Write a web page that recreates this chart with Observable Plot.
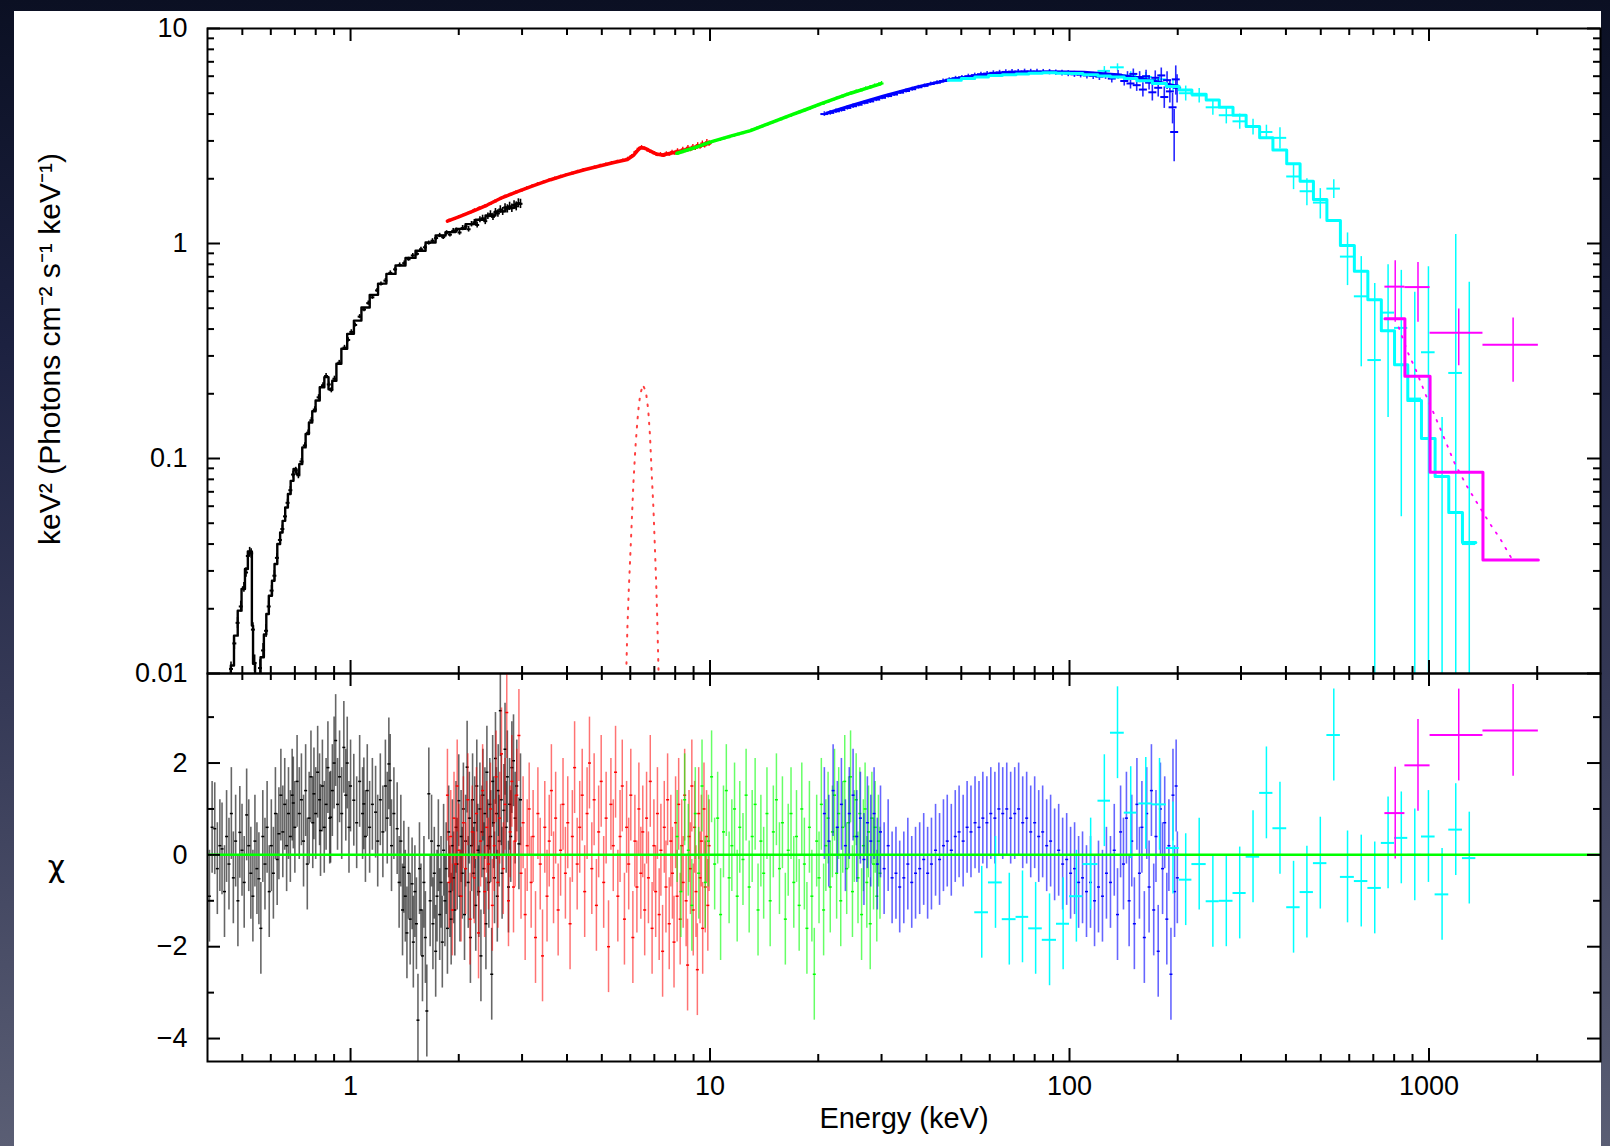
<!DOCTYPE html>
<html>
<head>
<meta charset="utf-8">
<script src="https://cdn.jsdelivr.net/npm/d3@7"></script>
<script src="https://cdn.jsdelivr.net/npm/@observablehq/plot@0.6"></script>
<style>
  html, body { margin: 0; padding: 0; overflow: hidden; background: #0c1124; }
  #slide { position: relative; width: 1610px; height: 1146px; overflow: hidden;
    background: linear-gradient(to bottom, #0b1023 0%, #1c2140 30%, #363a57 62%, #5a5e74 100%); }
  #sheet { position: absolute; left: 14px; top: 11px; width: 1587px; height: 1135px; background: #fff; }
  #spectrum, #residuals { position: absolute; left: 0; }
  #spectrum { top: 0; }
  #residuals { top: 653px; }
</style>
</head>
<body>
<div id="slide">
  <div id="sheet"></div>
  <div id="spectrum"></div>
  <div id="residuals"></div>
</div>
<script>
// ---------- axis ticks ----------
const energyMajor = [1, 10, 100, 1000];
const energyMinor = [0.5, 0.6, 0.7, 0.8, 0.9, 2, 3, 4, 5, 6, 7, 8, 9,
  20, 30, 40, 50, 60, 70, 80, 90, 200, 300, 400, 500, 600, 700, 800, 900, 2000];
const fluxMajor = [0.01, 0.1, 1, 10];
const fluxMinor = [0.02, 0.03, 0.04, 0.05, 0.06, 0.07, 0.08, 0.09,
  0.2, 0.3, 0.4, 0.5, 0.6, 0.7, 0.8, 0.9, 2, 3, 4, 5, 6, 7, 8, 9];
const chiMajor = [-4, -2, 0, 2];
const chiMinor = [-3, -1, 1, 3];

// ---------- unfolded spectrum: [energy keV, keV^2 flux, error] ----------
const blackData = [
  [0.465,0.0105,0.0008],[0.475,0.0138,0.0009],[0.485,0.0172,0.001],[0.495,0.0205,0.0012],
  [0.505,0.0252,0.0013],[0.512,0.0295,0.0015],[0.518,0.0352,0.0017],[0.524,0.0368,0.0018],
  [0.529,0.0362,0.0018],[0.535,0.0160,0.0012],[0.541,0.0112,0.001],[0.560,0.0106,0.001],
  [0.571,0.0128,0.001],[0.582,0.0158,0.0011],[0.592,0.0205,0.0012],[0.603,0.0243,0.0014],
  [0.614,0.0285,0.0016],[0.624,0.0345,0.0017],[0.636,0.0418,0.0019],[0.646,0.0470,0.002],
  [0.657,0.0538,0.0022],[0.668,0.0622,0.0025],[0.680,0.0712,0.0028],[0.692,0.0842,0.003],
  [0.704,0.0880,0.003],[0.716,0.0835,0.003],[0.730,0.0968,0.0032],[0.746,0.1150,0.0035],
  [0.762,0.1318,0.004],[0.778,0.1505,0.0045],[0.795,0.1690,0.005],[0.815,0.1925,0.0055],
  [0.838,0.2190,0.006],[0.855,0.2420,0.0065],[0.870,0.2210,0.006],[0.884,0.2080,0.006],
  [0.902,0.2350,0.0065],[0.930,0.2790,0.007],[0.962,0.3280,0.008],[0.985,0.3560,0.008],
  [1.005,0.3880,0.009],[1.030,0.4180,0.009],[1.060,0.4570,0.010],[1.090,0.4930,0.011],
  [1.120,0.5280,0.012],[1.150,0.5620,0.012],[1.185,0.6050,0.013],[1.215,0.6480,0.014],
  [1.250,0.6720,0.015],[1.290,0.7300,0.016],[1.330,0.7580,0.016],[1.370,0.7950,0.017],
  [1.410,0.8100,0.018],[1.450,0.8450,0.018],[1.490,0.8800,0.019],[1.530,0.8950,0.02],
  [1.570,0.9400,0.02],[1.610,0.9600,0.021],[1.650,1.0050,0.022],[1.690,1.0300,0.023],
  [1.730,1.0600,0.024],[1.770,1.0900,0.025],[1.810,1.0700,0.026],[1.850,1.1200,0.027],
  [1.890,1.1000,0.028],[1.930,1.1450,0.03],[1.970,1.1500,0.03],[2.010,1.1250,0.032],
  [2.050,1.1800,0.033],[2.090,1.2000,0.034],[2.130,1.1650,0.035],[2.170,1.2300,0.036],
  [2.210,1.2550,0.038],[2.250,1.2200,0.04],[2.290,1.2900,0.042],[2.330,1.3100,0.044],
  [2.370,1.2700,0.046],[2.410,1.3400,0.048],[2.450,1.3700,0.05],[2.490,1.3300,0.052],
  [2.530,1.4000,0.054],[2.570,1.3800,0.056],[2.610,1.4400,0.058],[2.650,1.4100,0.06],
  [2.690,1.4700,0.062],[2.730,1.4500,0.064],[2.770,1.4900,0.066],[2.810,1.4600,0.068],
  [2.850,1.5100,0.07],[2.890,1.4900,0.072],[2.930,1.5400,0.074],[2.970,1.5300,0.076]
];
const blackModel = [
  [0.46,0.0095],[0.469,0.0109],[0.479,0.015],[0.492,0.0196],[0.503,0.0247],[0.514,0.0306],
  [0.522,0.037],[0.530,0.037],[0.533,0.0167],[0.538,0.0111],[0.547,0.0099],[0.556,0.0098],
  [0.568,0.0119],[0.580,0.0152],[0.586,0.0189],[0.599,0.023],[0.610,0.027],[0.619,0.0323],
  [0.632,0.040],[0.642,0.0453],[0.652,0.0513],[0.664,0.0592],[0.675,0.0684],[0.688,0.0787],
  [0.700,0.0894],[0.714,0.0847],[0.726,0.0942],[0.742,0.1126],[0.758,0.130],[0.774,0.147],
  [0.791,0.166],[0.808,0.186],[0.834,0.2145],[0.857,0.239],[0.880,0.210],[0.899,0.230],
  [0.928,0.276],[0.958,0.324],[1.0,0.380],[1.044,0.438],[1.101,0.504],[1.161,0.577],
  [1.225,0.651],[1.292,0.722],[1.377,0.79],[1.468,0.857],[1.566,0.926],[1.670,1.01],
  [1.780,1.09],[1.898,1.13],[2.024,1.17],[2.158,1.23],[2.30,1.29],[2.45,1.35],
  [2.61,1.41],[2.79,1.47],[2.97,1.53]
];

const redData = [
  [1.88,1.28,0.02],[1.94,1.30,0.02],[2.00,1.33,0.02],[2.07,1.36,0.02],[2.14,1.39,0.02],
  [2.21,1.43,0.021],[2.28,1.46,0.021],[2.36,1.49,0.022],[2.44,1.53,0.022],[2.52,1.57,0.023],
  [2.60,1.61,0.023],[2.69,1.655,0.024],[2.78,1.69,0.024],[2.88,1.73,0.025],[2.98,1.765,0.025],
  [3.09,1.81,0.026],[3.20,1.85,0.026],[3.32,1.895,0.027],[3.44,1.93,0.027],[3.57,1.975,0.028],
  [3.70,2.01,0.028],[3.84,2.05,0.029],[3.98,2.085,0.03],[4.13,2.12,0.03],[4.28,2.16,0.031],
  [4.44,2.20,0.032],[4.60,2.22,0.033],[4.77,2.26,0.034],[4.95,2.30,0.035],[5.13,2.33,0.036],
  [5.32,2.37,0.037],[5.52,2.40,0.038],[5.72,2.43,0.039],[5.90,2.48,0.04],[6.05,2.55,0.04],
  [6.20,2.66,0.042],[6.33,2.76,0.043],[6.45,2.81,0.044],[6.58,2.77,0.044],[6.72,2.71,0.045],
  [6.86,2.67,0.045],[7.00,2.63,0.046],[7.14,2.58,0.046],[7.28,2.60,0.047],[7.42,2.56,0.048],
  [7.56,2.62,0.05],[7.70,2.60,0.052],[7.84,2.66,0.054],[7.98,2.63,0.056],[8.12,2.70,0.058],
  [8.26,2.66,0.06],[8.40,2.74,0.062],[8.54,2.71,0.064],[8.68,2.79,0.066],[8.82,2.74,0.068],
  [8.96,2.82,0.07],[9.10,2.78,0.072],[9.24,2.87,0.074],[9.38,2.82,0.076],[9.52,2.92,0.078],
  [9.66,2.86,0.08],[9.80,2.96,0.082],[9.94,2.92,0.084]
];
const redModel = [
  [1.86,1.27],[2.0,1.33],[2.2,1.42],[2.4,1.51],[2.61,1.62],[2.9,1.74],[3.2,1.85],[3.6,1.98],
  [4.0,2.09],[4.5,2.21],[4.96,2.30],[5.4,2.38],[5.89,2.46],[6.14,2.58],[6.3,2.72],[6.41,2.79],
  [6.55,2.78],[6.7,2.74],[6.85,2.68],[6.98,2.64],[7.15,2.6],[7.36,2.58],[7.6,2.61],[7.93,2.65],
  [8.4,2.70],[8.83,2.76],[9.3,2.83],[9.82,2.91],[10.0,2.94]
];
// Fe K line component alone
const redLine = [
  [5.855,0.0111],[5.89,0.0163],[5.94,0.0240],[6.00,0.0353],[6.06,0.0519],[6.12,0.0763],
  [6.20,0.1123],[6.28,0.150],[6.35,0.1824],[6.41,0.201],[6.50,0.2203],[6.63,0.205],
  [6.73,0.169],[6.81,0.1267],[6.88,0.0859],[6.96,0.0584],[7.02,0.0397],[7.08,0.0269],
  [7.13,0.0183],[7.17,0.0124],[7.19,0.0102]
];

const greenData = [
  [8.10,2.62,0.03],[8.35,2.66,0.03],[8.60,2.71,0.03],[8.86,2.75,0.03],[9.13,2.80,0.032],
  [9.41,2.85,0.032],[9.70,2.90,0.033],[10.0,2.95,0.034],[10.3,3.00,0.035],[10.6,3.03,0.035],
  [10.9,3.08,0.036],[11.25,3.12,0.037],[11.6,3.17,0.038],[11.95,3.22,0.039],[12.3,3.26,0.04],
  [12.7,3.31,0.04],[13.1,3.38,0.041],[13.5,3.44,0.042],[13.9,3.50,0.043],[14.35,3.57,0.044],
  [14.8,3.64,0.045],[15.25,3.71,0.046],[15.7,3.78,0.047],[16.2,3.86,0.048],[16.7,3.93,0.05],
  [17.2,4.01,0.052],[17.7,4.08,0.054],[18.25,4.16,0.056],[18.8,4.23,0.058],[19.4,4.32,0.06],
  [20.0,4.40,0.062],[20.6,4.47,0.064],[21.2,4.56,0.066],[21.9,4.65,0.068],[22.6,4.76,0.07],
  [23.3,4.83,0.072],[24.0,4.93,0.075],[24.7,5.01,0.078],[25.5,5.09,0.08],[26.3,5.16,0.085],
  [27.1,5.26,0.09],[27.9,5.33,0.095],[28.7,5.42,0.1],[29.5,5.49,0.11],[30.0,5.55,0.12]
];
const greenModel = [
  [8.1,2.63],[9.0,2.78],[10.0,2.96],[11.4,3.16],[12.96,3.35],[14.8,3.65],[16.7,3.94],
  [18.5,4.2],[20.3,4.46],[22.4,4.73],[24.6,5.0],[27.2,5.27],[29.8,5.53]
];

const blueData = [
  [20.8,4.00,0.10],[21.6,4.05,0.10],[22.4,4.12,0.10],[23.2,4.18,0.10],[24.1,4.27,0.10],
  [25.0,4.35,0.10],[25.9,4.42,0.10],[26.9,4.51,0.10],[27.9,4.58,0.10],[29.0,4.67,0.10],
  [30.1,4.76,0.10],[31.3,4.85,0.10],[32.5,4.93,0.10],[33.8,5.03,0.10],[35.1,5.12,0.11],
  [36.5,5.22,0.11],[38.0,5.33,0.11],[39.5,5.41,0.11],[41.1,5.52,0.11],[42.8,5.60,0.12],
  [44.5,5.70,0.12],[46.3,5.78,0.12],[48.2,5.87,0.12],[50.2,5.93,0.12],[52.3,6.00,0.13],
  [54.5,6.07,0.13],[56.7,6.13,0.13],[59.0,6.17,0.14],[61.4,6.22,0.14],[63.9,6.25,0.14],
  [66.5,6.28,0.15],[69.2,6.30,0.15],[72.0,6.30,0.15],[75.0,6.31,0.16],[78.0,6.30,0.16],
  [81.2,6.29,0.17],[84.5,6.28,0.17],[88.0,6.27,0.18],[91.6,6.24,0.18],[95.3,6.21,0.19],
  [99.2,6.17,0.2],[103.2,6.12,0.2],[107.4,6.10,0.21],[111.8,6.05,0.22],[116.4,6.02,0.23],
  [121.1,5.97,0.24],[126.0,6.05,0.25],[131.1,5.85,0.27],[136.5,6.10,0.28],[142.0,5.70,0.3],
  [145.0,6.0,0.3],[147.8,5.55,0.32],[150.5,6.15,0.33],[153.8,5.45,0.35],[156.7,5.95,0.35],
  [160.0,5.2,0.4],[163.3,6.0,0.4],[166.5,5.6,0.42],[170.0,5.05,0.45],[173.2,5.9,0.45],
  [176.5,5.3,0.5],[180.0,6.05,0.5],[183.5,4.8,0.55],[186.8,5.75,0.55],[190.2,5.1,0.6],
  [193.5,4.3,0.7],[195.5,3.3,0.9],[197.5,5.8,0.9],[199.2,5.3,0.8]
];
const blueModel = [
  [21.1,4.04],[24.6,4.38],[30.4,4.85],[37.7,5.35],[46.7,5.8],[57.8,6.09],[71.5,6.26],
  [88.6,6.3],[109.7,6.26],[135.8,6.1],[168,5.75],[197,5.4],[200,5.38]
];

// binned spectra: [E low, E high, value, lower end of bar, upper end of bar]
const cyanData = [
  [120,130,6.35,6.05,6.65],[130,142,6.6,6.35,6.85],[142,154,6.05,5.8,6.3],[156,170,5.95,5.65,6.25],
  [170,186,5.8,5.5,6.1],[186,202,5.45,5.1,5.8],[202,219,5.0,4.6,5.4],[219,240,4.88,4.5,5.26],
  [240,261,4.3,3.95,4.65],[261,285,3.95,3.6,4.3],[285,310,3.7,3.4,4.0],[310,338,3.49,3.2,3.78],
  [338,368,3.3,3.05,3.55],[368,402,3.1,2.75,3.45],[402,438,2.05,1.78,2.32],[438,477,1.75,1.5,2.0],
  [477,520,1.55,1.3,1.8],[520,567,1.8,1.62,1.98],[567,620,0.869,0.637,1.12],[620,676,0.568,0.267,0.869],
  [676,737,0.287,0.001,0.651],[737,802,0.477,0.155,0.797],[802,873,0.405,0.0536,0.75],
  [873,953,0.19,0.001,0.593],[953,1040,0.312,0.001,0.78],[1040,1135,0.005,0.001,0.155],
  [1135,1239,0.25,0.001,1.1],[1239,1350,0.04,0.001,0.66]
];
// model histogram: [E low, E high, value]
const cyanModel = [
  [46,50,5.75],[50,54.5,5.85],[54.5,59.5,5.95],[59.5,65,6.05],[65,71,6.1],[71,77,6.15],
  [77,84,6.2],[84,92,6.22],[92,100,6.2],[100,109,6.17],[109,120,6.1],[120,130,6.02],
  [130,142,5.95],[142,154,5.85],[154,170,5.72],[170,186,5.55],[186,202,5.38],[202,219,5.18],
  [219,240,4.95],[240,261,4.65],[261,285,4.3],[285,310,3.95],[310,338,3.5],[338,368,3.1],
  [368,402,2.72],[402,438,2.35],[438,477,1.95],[477,520,1.6],[520,567,1.28],[567,620,0.98],
  [620,676,0.742],[676,737,0.547],[737,802,0.393],[802,873,0.273],[873,953,0.186],
  [953,1040,0.124],[1040,1135,0.0825],[1135,1239,0.0561],[1239,1350,0.0407]
];

const magentaData = [
  [754,857,0.630,0.430,0.832],[857,1007,0.627,0.430,0.815],
  [1007,1413,0.385,0.270,0.496],[1413,2015,0.3385,0.226,0.4506]
];
const magentaModel = [[754,857,0.447],[857,1007,0.241],[1007,1413,0.0862],[1413,2015,0.0337]];
const magentaCurve = [
  [824,0.407],[873,0.312],[917,0.261],[979,0.198],[1025,0.166],[1095,0.128],[1172,0.097],
  [1268,0.0755],[1349,0.0636],[1476,0.0499],[1573,0.0427],[1711,0.0335]
];

// ---------- residuals in sigma: [energy keV, chi] ----------
const blackChi = [
  [0.405,-0.9],[0.412,0.6],[0.419,0.57],[0.426,-0.3],[0.433,0.2],[0.439,0.13],[0.446,-0.8],
  [0.452,0.4],[0.459,-0.2],[0.466,0.9],[0.472,-0.5],[0.479,0.3],[0.486,-1.0],[0.492,0.49],
  [0.499,0.1],[0.506,-0.6],[0.514,0.87],[0.521,0.2],[0.528,-0.4],[0.535,-0.9],[0.542,0.3],
  [0.549,-0.3],[0.556,-0.52],[0.563,-1.6],[0.570,0.4],[0.578,-0.2],[0.586,0.6],[0.594,-0.8],
  [0.602,0.2],[0.610,-0.4],[0.618,0.9],[0.625,-0.1],[0.632,0.46],[0.640,1.3],[0.648,0.5],
  [0.656,1.1],[0.664,0.2],[0.672,0.9],[0.680,0.4],[0.688,1.3],[0.693,1.13],[0.700,0.6],
  [0.710,1.6],[0.720,0.9],[0.730,1.2],[0.740,0.3],[0.750,1.4],[0.758,-0.2],[0.767,0.8],
  [0.776,1.7],[0.785,0.7],[0.791,1.33],[0.800,0.9],[0.810,1.8],[0.820,1.2],[0.825,0.53],
  [0.835,1.5],[0.845,0.6],[0.855,1.1],[0.865,1.9],[0.875,0.8],[0.880,0.82],[0.890,1.4],
  [0.900,2.0],[0.909,2.49],[0.920,1.1],[0.932,1.7],[0.945,0.9],[0.958,2.34],[0.970,1.3],
  [0.979,2.0],[0.990,0.6],[1.000,1.5],[1.021,1.19],[1.040,0.7],[1.060,1.6],[1.080,0.9],
  [1.089,1.11],[1.100,0.4],[1.113,1.4],[1.130,0.6],[1.150,1.1],[1.174,0.93],[1.190,0.3],
  [1.210,1.2],[1.230,0.5],[1.250,1.5],[1.265,0.8],[1.278,1.98],[1.289,1.62],[1.300,0.2],
  [1.320,0.9],[1.348,0.57],[1.365,-0.6],[1.380,0.3],[1.395,-1.2],[1.407,-0.27],[1.420,-0.9],
  [1.435,-1.7],[1.450,-0.4],[1.465,-1.4],[1.483,-0.63],[1.495,-1.9],[1.510,-0.8],[1.525,-1.5],
  [1.540,-3.6],[1.555,-0.3],[1.570,-1.2],[1.585,-2.2],[1.600,-0.6],[1.615,-1.8],[1.630,-3.4],
  [1.651,1.33],[1.665,-1.0],[1.680,0.3],[1.695,-1.5],[1.710,-0.4],[1.725,-2.1],[1.740,-0.9],
  [1.755,0.2],[1.770,-1.3],[1.785,-0.6],[1.800,-1.9],[1.815,0.1],[1.830,-1.0],[1.845,-0.3],
  [1.860,-1.6],[1.875,0.5],[1.890,-0.8],[1.905,-1.4],[1.920,0.2],[1.935,-0.5],[1.950,-1.2],
  [1.965,0.6],[1.980,-0.2],[2.000,1.18],[2.015,-0.9],[2.030,0.4],[2.045,-0.4],[2.060,1.0],
  [2.075,-1.3],[2.090,0.3],[2.110,1.91],[2.125,-0.6],[2.140,0.8],[2.155,-1.8],[2.170,0.2],
  [2.185,1.2],[2.200,-0.4],[2.215,0.7],[2.230,-1.1],[2.245,1.5],[2.260,0.1],[2.275,-0.8],
  [2.290,1.0],[2.305,-2.2],[2.320,0.5],[2.335,1.3],[2.350,-0.3],[2.365,0.9],[2.380,-1.5],
  [2.395,1.8],[2.410,0.2],[2.425,-0.6],[2.440,1.1],[2.455,0.4],[2.470,-2.6],[2.485,1.6],
  [2.500,0.7],[2.515,-0.5],[2.530,2.1],[2.545,0.9],[2.560,-0.9],[2.575,1.4],[2.590,0.3],
  [2.610,3.14],[2.625,1.2],[2.640,-0.4],[2.670,0.97],[2.690,2.3],[2.710,0.6],[2.730,1.7],
  [2.750,-0.7],[2.770,1.1],[2.790,0.4],[2.810,1.9],[2.840,2.05],[2.870,0.8],[2.900,1.5],
  [2.940,0.24],[2.970,1.2]
];
const redChi = [
  [1.86,1.3],[1.88,-0.6],[1.90,0.4],[1.92,-1.2],[1.94,0.8],[1.96,-0.2],[1.98,1.5],[2.00,0.1],
  [2.03,-0.9],[2.06,0.7],[2.09,-0.3],[2.12,1.2],[2.15,-1.4],[2.18,0.5],[2.21,-0.5],[2.24,0.9],
  [2.27,-1.7],[2.30,0.3],[2.33,1.4],[2.36,-0.8],[2.39,0.6],[2.42,-0.2],[2.45,1.0],[2.48,-1.1],
  [2.51,0.2],[2.54,1.7],[2.57,-0.6],[2.60,0.8],[2.63,2.2],[2.66,-0.3],[2.69,1.1],[2.72,3.1],
  [2.75,-1.0],[2.78,0.5],[2.81,1.6],[2.84,-0.7],[2.87,0.3],[2.90,1.3],[2.94,2.6],[2.98,-0.4],
  [3.02,0.7],[3.06,-1.3],[3.10,0.2],[3.14,1.0],[3.18,-0.6],[3.22,0.4],[3.27,-1.8],[3.32,0.9],
  [3.37,-0.2],[3.42,-2.2],[3.47,0.6],[3.52,-0.9],[3.57,0.3],[3.62,1.4],[3.67,-0.5],[3.72,0.8],
  [3.78,-1.2],[3.84,0.1],[3.90,1.1],[3.96,-0.4],[4.02,0.7],[4.08,-1.5],[4.14,0.4],[4.20,1.9],
  [4.27,-0.2],[4.34,0.6],[4.41,1.3],[4.48,-0.8],[4.55,0.9],[4.62,2.0],[4.69,-0.3],[4.76,1.2],
  [4.83,-1.1],[4.90,0.5],[4.98,1.6],[5.06,-0.6],[5.14,0.8],[5.22,-2.0],[5.30,1.1],[5.38,0.2],
  [5.46,1.8],[5.54,-0.9],[5.62,0.4],[5.70,1.5],[5.78,-1.4],[5.86,0.6],[5.94,-0.2],[6.02,1.3],
  [6.10,-1.8],[6.18,0.3],[6.26,-0.7],[6.34,1.0],[6.42,-0.4],[6.50,0.5],[6.58,-1.2],[6.66,0.8],
  [6.74,-0.5],[6.82,1.6],[6.90,-1.6],[6.98,0.2],[7.06,-0.8],[7.14,0.9],[7.22,-1.3],[7.30,0.1],
  [7.38,-2.1],[7.46,0.6],[7.54,-0.7],[7.62,1.2],[7.70,-1.5],[7.78,0.3],[7.86,-0.4],[7.94,-1.9],
  [8.02,0.7],[8.10,-0.9],[8.18,1.1],[8.26,-1.4],[8.34,0.2],[8.42,-0.6],[8.50,1.3],[8.58,-1.0],
  [8.66,-2.4],[8.74,0.4],[8.82,-0.3],[8.90,1.5],[8.98,-1.2],[9.06,0.6],[9.14,-0.8],[9.22,-2.5],
  [9.30,0.9],[9.38,-0.5],[9.46,0.3],[9.54,-1.6],[9.62,1.0],[9.70,-0.7],[9.78,0.4],[9.86,-1.1],
  [9.94,0.2]
];
const greenChi = [
  [8.1,0.4],[8.3,-0.8],[8.5,1.2],[8.7,0.1],[8.9,-1.1],[9.1,0.9],[9.3,-0.4],[9.5,1.5],[9.7,-0.6],
  [9.9,0.3],[10.1,1.7],[10.3,-0.2],[10.5,0.8],[10.7,-1.3],[10.9,0.5],[11.1,1.4],[11.3,-0.5],
  [11.5,0.2],[11.7,1.0],[11.9,-0.9],[12.1,0.6],[12.35,-0.1],[12.6,1.3],[12.85,-0.7],[13.1,0.4],
  [13.35,1.1],[13.6,-1.2],[13.85,0.3],[14.1,-0.4],[14.4,0.9],[14.7,-1.0],[15.0,0.5],[15.3,1.2],
  [15.6,-0.3],[15.9,0.7],[16.2,-1.4],[16.5,0.1],[16.8,0.9],[17.1,-0.6],[17.4,0.4],[17.7,-1.1],
  [18.0,1.0],[18.3,-0.2],[18.6,-1.6],[18.9,0.6],[19.2,-0.9],[19.5,-2.6],[19.8,0.3],[20.1,-0.5],
  [20.4,1.1],[20.7,-1.2],[21.0,0.2],[21.3,0.8],[21.6,-0.7],[21.9,0.5],[22.2,1.3],[22.5,-0.4],
  [22.8,0.9],[23.1,-1.0],[23.4,0.6],[23.7,1.6],[24.0,-0.3],[24.3,0.7],[24.6,1.7],[24.9,-0.8],
  [25.2,0.4],[25.5,1.2],[25.8,-0.5],[26.1,0.9],[26.4,-1.3],[26.7,0.2],[27.0,1.0],[27.3,-0.6],
  [27.6,0.5],[27.9,-1.5],[28.2,0.8],[28.5,-0.2],[28.8,0.6],[29.1,-0.9],[29.4,0.3],[29.7,-0.4]
];
const blueChi = [
  [20.8,0.9],[21.4,0.3],[22.0,1.4],[22.6,0.6],[23.2,1.1],[23.8,0.2],[24.4,0.9],[25.0,1.3],
  [25.6,0.4],[26.2,0.8],[26.8,-0.1],[27.4,0.7],[28.0,0.3],[28.6,0.9],[29.2,-0.2],[29.8,0.5],
  [30.5,-0.3],[31.3,0.2],[32.1,-0.5],[32.9,-0.4],[33.7,-0.7],[34.6,-0.5],[35.5,-0.2],[36.4,-0.6],
  [37.3,-0.4],[38.3,-0.3],[39.3,-0.1],[40.3,-0.4],[41.3,-0.2],[42.4,0.1],[43.5,-0.1],[44.6,0.2],
  [45.7,0.3],[46.9,0.1],[48.1,0.4],[49.3,0.5],[50.6,0.3],[51.9,0.6],[53.2,0.5],[54.6,0.7],
  [56.0,0.6],[57.4,0.8],[58.9,0.7],[60.4,0.9],[62.0,0.8],[63.6,1.0],[65.2,0.9],[66.9,1.0],
  [68.6,0.8],[70.4,0.9],[72.2,1.0],[74.1,0.7],[76.0,0.8],[78.0,0.5],[80.0,0.7],[82.1,0.4],
  [84.2,0.5],[86.4,0.2],[88.6,0.3],[90.9,0.0],[93.3,0.1],[95.7,-0.2],[98.2,-0.1],[100.7,-0.4],
  [103.3,-0.3],[106.0,-0.6],[108.7,-0.5],[111.5,-0.8],[114.4,-0.6],[117.4,-1.0],[120.4,-0.7],
  [123.5,-0.9],[126.7,-0.4],[130.0,-0.6],[133.2,0.1],[136.0,-1.3],[138.7,0.5],[141.3,-0.2],
  [144.0,0.8],[146.5,-1.0],[149.0,0.3],[151.5,-1.5],[154.0,1.1],[156.5,-0.4],[159.0,0.6],
  [161.5,-1.8],[164.0,0.9],[166.5,-0.7],[169.0,1.4],[171.5,-1.2],[174.0,0.4],[176.5,-2.1],
  [179.0,1.0],[181.5,-0.3],[184.0,0.7],[186.5,-1.4],[189.0,0.2],[191.5,-2.6],[194.0,1.3],
  [196.0,-0.8],[198.0,1.5],[199.5,-0.5]
];
// binned residuals: [E low, E high, chi]
const cyanChi = [
  [54.5,59.5,-1.25],[59.5,65,-0.6],[65,71,-1.4],[71,77,-1.35],[77,84,-1.6],[84,92,-1.85],
  [92,100,-1.5],[100,109,-0.9],[109,120,-0.2],[120,130,1.18],[130,142,2.66],[142,154,0.92],
  [156,170,1.12],[170,186,1.10],[186,202,0.15],[202,219,-0.54],[219,240,-0.2],[240,261,-1.01],
  [261,285,-1.0],[285,310,-0.83],[310,338,-0.04],[338,368,1.35],[368,402,0.58],[402,438,-1.14],
  [438,477,-0.81],[477,520,-0.18],[520,567,2.61],[567,620,-0.48],[620,676,-0.57],[676,737,-0.72],
  [737,802,0.26],[802,873,0.37],[873,953,0.0],[953,1040,0.40],[1040,1135,-0.86],
  [1135,1239,0.55],[1239,1350,-0.07]
];
const magentaChi = [[754,857,0.91],[857,1007,1.95],[1007,1413,2.61],[1413,2015,2.71]];

// ---------- drawing helpers ----------
const FONT = "'Liberation Sans', Arial, Helvetica, sans-serif";
const C = {black: "#000000", red: "#ff0000", green: "#00ff00", blue: "#0000ff", cyan: "#00ffff", magenta: "#ff00ff"};
const W = 1610, ML = 207, MR = 10;
const FRAME_W = W - ML - MR;

// short horizontal stroke used as the bin marker of dense data
const dash = {draw(ctx, size) { const r = Math.sqrt(size / Math.PI); ctx.moveTo(-r, 0); ctx.lineTo(r, 0); }};

function xTicks(values, len, frameH) {
  const s = {stroke: "#000", strokeWidth: 2};
  return [
    Plot.tickX(values, {x: d => d, insetBottom: frameH - len, ...s}),
    Plot.tickX(values, {x: d => d, insetTop: frameH - len, ...s})
  ];
}
function yTicks(values, len) {
  const s = {stroke: "#000", strokeWidth: 2};
  return [
    Plot.tickY(values, {y: d => d, insetRight: FRAME_W - len, ...s}),
    Plot.tickY(values, {y: d => d, insetLeft: FRAME_W - len, ...s})
  ];
}
// points with symmetric error bars
function points(rows, color, {r = 1.5, bar = 1, opacity = 1, mark = 1.5, err = d => d[2]} = {}) {
  return [
    Plot.ruleX(rows, {x: d => d[0], y1: d => d[1] - err(d), y2: d => d[1] + err(d),
      stroke: color, strokeWidth: bar, strokeOpacity: opacity, clip: true}),
    Plot.dot(rows, {x: d => d[0], y: d => d[1], symbol: dash, r, stroke: color,
      strokeWidth: mark, fill: "none", clip: true})
  ];
}
// binned crosses: horizontal bar spans the bin, vertical bar the error
function binned(rows, color, {v = d => d[2], lo = d => d[3], hi = d => d[4], width = 1.5} = {}) {
  return [
    Plot.ruleX(rows, {x: d => (d[0] + d[1]) / 2, y1: lo, y2: hi, stroke: color, strokeWidth: width, clip: true}),
    Plot.ruleY(rows, {y: v, x1: d => d[0], x2: d => d[1], stroke: color, strokeWidth: width + 0.5, clip: true})
  ];
}
function histogram(bins) {
  const last = bins[bins.length - 1];
  return bins.map(b => [b[0], b[2]]).concat([[last[1], last[2]]]);
}
const line = (rows, color, opts = {}) =>
  Plot.line(rows, {x: d => d[0], y: d => d[1], stroke: color, strokeWidth: 2, clip: true, ...opts});

const style = {fontFamily: FONT, background: "transparent", color: "#000", overflow: "visible"};

// ---------- upper panel: unfolded spectrum ----------
const TOP_H = 700, TOP_MT = 28, TOP_MB = 27;
const topFrameH = TOP_H - TOP_MT - TOP_MB;
const spectrum = Plot.plot({
  width: W, height: TOP_H, marginLeft: ML, marginRight: MR, marginTop: TOP_MT, marginBottom: TOP_MB,
  style,
  x: {type: "log", domain: [0.4, 3000], axis: null},
  y: {type: "log", domain: [0.01, 10]},
  marks: [
    line(blackModel, C.black, {curve: "step", strokeWidth: 2.4}),
    ...points(blackData, C.black, {r: 2, bar: 1.6, mark: 2}),
    line(redModel, C.red, {strokeWidth: 3.5}),
    ...points(redData, C.red, {r: 2, bar: 1.4, mark: 2}),
    line(redLine, C.red, {strokeWidth: 2, strokeDasharray: "1.6,7.5", strokeOpacity: 0.75}),
    line(greenModel, C.green, {strokeWidth: 3.5}),
    ...points(greenData, C.green, {r: 2, bar: 1.4, mark: 2}),
    ...binned(cyanData.slice(0, 6), C.cyan),
    line(blueModel, C.blue, {strokeWidth: 3}),
    ...points(blueData, C.blue, {r: 4, bar: 1.6, opacity: 0.85, mark: 2}),
    line(histogram(cyanModel), C.cyan, {curve: "step-after", strokeWidth: 3}),
    ...binned(cyanData.slice(6), C.cyan),
    ...binned(magentaData, C.magenta),
    line(histogram(magentaModel), C.magenta, {curve: "step-after", strokeWidth: 3}),
    line(magentaCurve, C.magenta, {strokeWidth: 1.8, strokeDasharray: "1.6,7.5"}),
    Plot.frame({stroke: "#000", strokeWidth: 2}),
    ...xTicks(energyMajor, 13, topFrameH),
    ...xTicks(energyMinor, 7, topFrameH),
    ...yTicks(fluxMajor, 13),
    ...yTicks(fluxMinor, 7),
    Plot.axisY({ticks: fluxMajor, tickFormat: d => String(d), tickSize: 0, tickPadding: 20,
      fontSize: 27, label: null}),
    Plot.text(["keV² (Photons cm⁻² s⁻¹ keV⁻¹)"], {text: d => d, frameAnchor: "left",
      textAnchor: "middle", rotate: -90, dx: -157, dy: -2, fontSize: 30})
  ]
});
document.getElementById("spectrum").append(spectrum);

// ---------- lower panel: residuals ----------
const BOT_H = 493, BOT_MT = 20, BOT_MB = 85;
const botFrameH = BOT_H - BOT_MT - BOT_MB;
const unitErr = () => 1;
const residuals = Plot.plot({
  width: W, height: BOT_H, marginLeft: ML, marginRight: MR, marginTop: BOT_MT, marginBottom: BOT_MB,
  style,
  x: {type: "log", domain: [0.4, 3000]},
  y: {domain: [-4.5, 3.95]},
  marks: [
    ...points(blackChi, C.black, {r: 1.5, bar: 1.6, opacity: 0.6, err: unitErr}),
    ...points(redChi, C.red, {r: 1.5, bar: 1.5, opacity: 0.55, err: unitErr}),
    ...points(greenChi, C.green, {r: 1.5, bar: 1.5, opacity: 0.6, err: unitErr}),
    ...points(blueChi, C.blue, {r: 1.5, bar: 1.6, opacity: 0.6, err: unitErr}),
    ...binned(cyanChi, C.cyan, {lo: d => d[2] - 1, hi: d => d[2] + 1}),
    ...binned(magentaChi, C.magenta, {lo: d => d[2] - 1, hi: d => d[2] + 1}),
    Plot.ruleY([0], {stroke: C.green, strokeWidth: 2.5}),
    Plot.frame({stroke: "#000", strokeWidth: 2}),
    ...xTicks(energyMajor, 13, botFrameH),
    ...xTicks(energyMinor, 7, botFrameH),
    ...yTicks(chiMajor, 13),
    ...yTicks(chiMinor, 7),
    Plot.axisY({ticks: chiMajor, tickFormat: d => d < 0 ? "−" + Math.abs(d) : String(d),
      tickSize: 0, tickPadding: 20, fontSize: 27, label: null}),
    Plot.axisX({ticks: energyMajor, tickFormat: d => String(d), tickSize: 0, tickPadding: 14,
      fontSize: 27, label: null}),
    Plot.text(["χ"], {text: d => d, frameAnchor: "left", textAnchor: "middle", dx: -151,
      fontSize: 30, fontFamily: "'DejaVu Sans', sans-serif"}),
    Plot.text(["Energy (keV)"], {text: d => d, frameAnchor: "bottom", dy: 66, fontSize: 29})
  ]
});
document.getElementById("residuals").append(residuals);
</script>
</body>
</html>
